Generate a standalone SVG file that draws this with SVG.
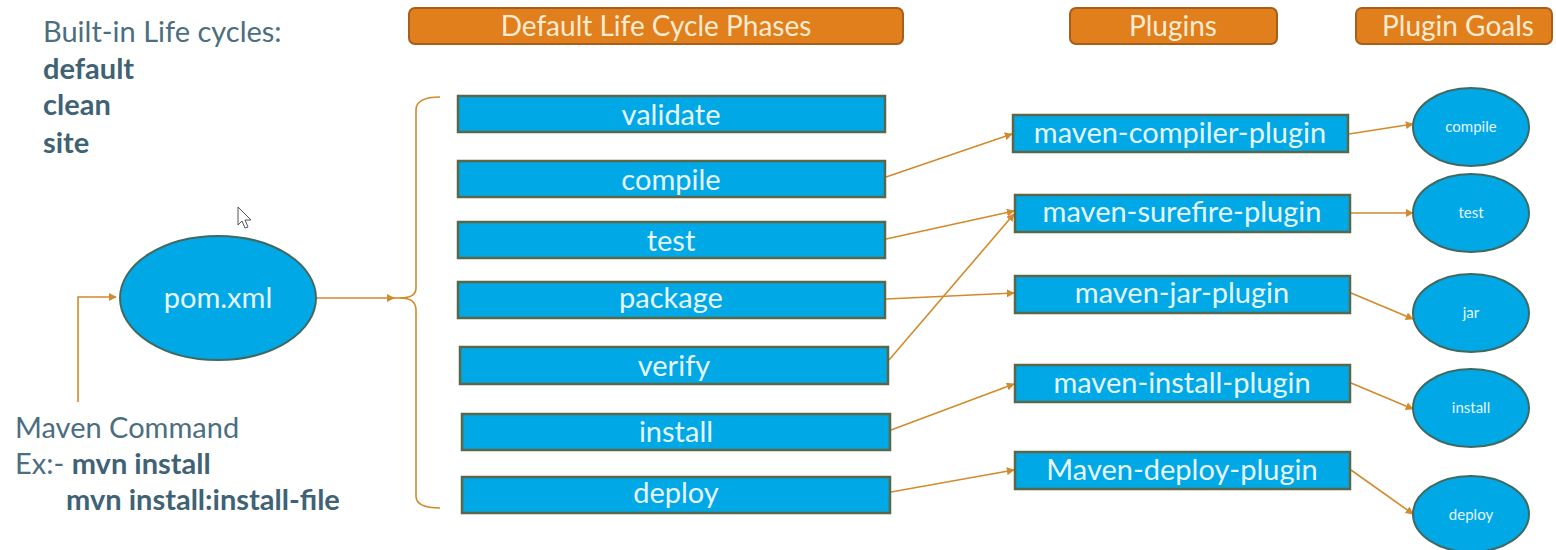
<svg xmlns="http://www.w3.org/2000/svg" width="1556" height="550" viewBox="0 0 1556 550">
<defs>
<style>
.hdr{fill:#E07F1C;stroke:#A65E1A;stroke-width:2}
.hdrt{font-family:Lato,"Open Sans",sans-serif;font-size:28px;fill:#FCEBD2;text-anchor:middle}
.box{fill:#00A8E6;stroke:#586848;stroke-width:2.5}
.boxt{font-family:Lato,"Open Sans",sans-serif;font-size:29px;fill:#E6F6FF;text-anchor:middle}
.ell{fill:#00A8E6;stroke:#3F6A62;stroke-width:2}
.ellt{font-family:Lato,"Open Sans",sans-serif;font-size:15px;fill:#E6F6FF;text-anchor:middle}
.lt{font-family:Lato,"Open Sans",sans-serif;font-size:29px;fill:#4B6E80}
.b{font-weight:bold;fill:#3F6275}
.con{fill:none;stroke:#D38A2C;stroke-width:1.6}
</style>
<marker id="ah" viewBox="0 0 10 10" refX="9" refY="5" markerWidth="8" markerHeight="8" markerUnits="userSpaceOnUse" orient="auto">
<path d="M0,0 L10,5 L0,10 z" fill="#D38A2C"/>
</marker>
</defs>
<rect width="1556" height="550" fill="#FFFFFF"/>

<g id="headers">
<g id="h-phases"><rect class="hdr" x="409" y="8" width="494" height="36" rx="6"/><text class="hdrt" x="656" y="36">Default Life Cycle Phases</text></g>
<g id="h-plugins"><rect class="hdr" x="1070" y="8" width="207" height="36" rx="6"/><text class="hdrt" x="1173" y="36">Plugins</text></g>
<g id="h-goals"><rect class="hdr" x="1356" y="8" width="196" height="36" rx="6"/><text class="hdrt" x="1458" y="36">Plugin Goals</text></g>
</g>

<g id="lifecycles">
<text class="lt" x="43" y="42">Built-in Life cycles:</text>
<text class="lt b" x="43" y="79">default</text>
<text class="lt b" x="43" y="115">clean</text>
<text class="lt b" x="43" y="153">site</text>
</g>

<g id="command">
<text class="lt" x="15" y="438">Maven Command</text>
<text class="lt" x="15" y="474">Ex:- <tspan class="b">mvn install</tspan></text>
<text class="lt b" x="66" y="510">mvn install:install-file</text>
</g>

<g id="cursor">
<path d="M238,207 L238,225 L242,221 L245,228 L248,227 L245,220 L251,220 Z" fill="#FFFFFF" stroke="#555" stroke-width="1"/>
</g>

<g id="connectors">
<path class="con" d="M78,402 L78,297 L116,297" marker-end="url(#ah)"/>
<path class="con" d="M317,298 L394,298" marker-end="url(#ah)"/>
<path class="con" d="M392,298 L408,298"/>
<path class="con" d="M440,97 Q416,97 416,110 L416,288 Q416,298 400,298 Q416,298 416,310 L416,496 Q416,508 440,508"/>
<path class="con" d="M886,177 L1012,134" marker-end="url(#ah)"/>
<path class="con" d="M886,239 L1014,211" marker-end="url(#ah)"/>
<path class="con" d="M886,299 L1014,293" marker-end="url(#ah)"/>
<path class="con" d="M889,360 L1014,214" marker-end="url(#ah)"/>
<path class="con" d="M891,430 L1014,384" marker-end="url(#ah)"/>
<path class="con" d="M891,492 L1014,470" marker-end="url(#ah)"/>
<path class="con" d="M1349,134 L1413,124" marker-end="url(#ah)"/>
<path class="con" d="M1351,213 L1413,213" marker-end="url(#ah)"/>
<path class="con" d="M1351,293 L1413,319" marker-end="url(#ah)"/>
<path class="con" d="M1351,383 L1413,409" marker-end="url(#ah)"/>
<path class="con" d="M1351,470 L1413,514" marker-end="url(#ah)"/>
</g>

<g id="pom"><ellipse class="ell" cx="218" cy="298" rx="98" ry="62"/><text class="boxt" x="218" y="308">pom.xml</text></g>

<g id="phase-validate"><rect class="box" x="458" y="96" width="427" height="36"/><text class="boxt" x="671" y="125">validate</text></g>
<g id="phase-compile"><rect class="box" x="458" y="161" width="427" height="36"/><text class="boxt" x="671" y="190">compile</text></g>
<g id="phase-test"><rect class="box" x="458" y="222" width="427" height="36"/><text class="boxt" x="671" y="251">test</text></g>
<g id="phase-package"><rect class="box" x="458" y="282" width="427" height="36"/><text class="boxt" x="671" y="308">package</text></g>
<g id="phase-verify"><rect class="box" x="460" y="347" width="428" height="37"/><text class="boxt" x="674" y="376">verify</text></g>
<g id="phase-install"><rect class="box" x="462" y="414" width="428" height="36"/><text class="boxt" x="676" y="442">install</text></g>
<g id="phase-deploy"><rect class="box" x="462" y="477" width="428" height="36"/><text class="boxt" x="676" y="503">deploy</text></g>

<g id="plugin-compiler"><rect class="box" x="1013" y="115" width="335" height="37"/><text class="boxt" x="1180" y="143">maven-compiler-plugin</text></g>
<g id="plugin-surefire"><rect class="box" x="1015" y="195" width="335" height="37"/><text class="boxt" x="1182" y="222">maven-surefire-plugin</text></g>
<g id="plugin-jar"><rect class="box" x="1015" y="276" width="335" height="37"/><text class="boxt" x="1182" y="303">maven-jar-plugin</text></g>
<g id="plugin-install"><rect class="box" x="1015" y="365" width="335" height="37"/><text class="boxt" x="1182" y="393">maven-install-plugin</text></g>
<g id="plugin-deploy"><rect class="box" x="1015" y="452" width="335" height="37"/><text class="boxt" x="1182" y="480">Maven-deploy-plugin</text></g>

<g id="goal-compile"><ellipse class="ell" cx="1471" cy="127" rx="58" ry="39"/><text class="ellt" x="1471" y="132">compile</text></g>
<g id="goal-test"><ellipse class="ell" cx="1471" cy="213" rx="58" ry="39"/><text class="ellt" x="1471" y="218">test</text></g>
<g id="goal-jar"><ellipse class="ell" cx="1471" cy="313" rx="58" ry="39"/><text class="ellt" x="1471" y="318">jar</text></g>
<g id="goal-install"><ellipse class="ell" cx="1471" cy="408" rx="58" ry="39"/><text class="ellt" x="1471" y="413">install</text></g>
<g id="goal-deploy"><ellipse class="ell" cx="1471" cy="514" rx="58" ry="38"/><text class="ellt" x="1471" y="520">deploy</text></g>
</svg>
